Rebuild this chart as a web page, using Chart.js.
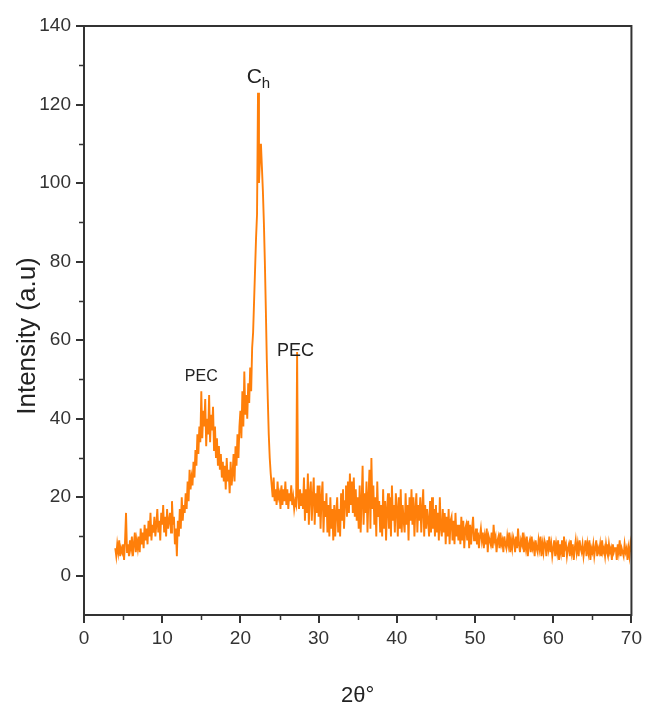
<!DOCTYPE html>
<html>
<head>
<meta charset="utf-8">
<script src="https://cdn.jsdelivr.net/npm/chart.js@4"></script>
<style>
html,body{margin:0;padding:0;background:#fff;}
#wrap{width:646px;height:709px;}
</style>
</head>
<body>
<div id="wrap"><canvas id="c" width="646" height="709"></canvas></div>
<script>
// 2θ grid: first angle and step of the scan (degrees)
const startAngle = 4;
const angleStep = 0.125;
// Intensity (a.u), one value per grid step, 4.000° … 70.000°
const intensity = [
  7,5,8,6,9,5,7,6,          // 4
  8,4,9,16,6,8,5,9,         // 5
  7,10,5,8,11,6,9,7,        // 6
  10,6,12,8,11,7,13,9,      // 7
  12,8,14,10,16,9,13,11,    // 8
  15,10,13,17,11,14,9,16,   // 9
  13,18,11,15,10,17,12,14,  // 10
  16,11,19,13,15,8,12,5,    // 11
  14,10,17,12,20,14,18,16,  // 12
  21,17,24,19,27,22,25,23,  // 13
  29,25,32,28,36,31,38,34,  // 14
  47,35,42,38,45,33,40,36,  // 15
  46,34,41,37,43,32,38,30,  // 16
  35,28,33,27,31,25,29,24,  // 17
  28,22,30,24,27,21,29,23,  // 18
  26,31,24,33,28,36,30,38,  // 19
  42,35,47,38,52,41,46,40,  // 20
  49,44,53,47,58,62,70,78,  // 21
  86,92,123,100,106,110,104,98, // 22
  90,80,68,55,45,36,30,26,  // 23
  23,20,25,19,22,18,24,20,  // 24
  21,17,23,18,22,19,24,18,  // 25
  22,17,21,19,23,18,20,17,  // 26
  19,18,57,20,17,22,18,21,  // 27
  17,25,14,22,16,26,13,21,  // 28
  24,14,20,25,13,21,16,23,  // 29
  15,23,12,20,24,11,19,15,  // 30
  21,11,18,10,20,12,17,9,   // 31
  18,10,16,20,11,17,10,21,  // 32
  14,22,12,19,23,15,24,16,  // 33
  26,18,24,16,25,15,22,14,  // 34
  20,12,23,11,19,28,13,21,  // 35
  16,24,11,20,27,12,30,17,  // 36
  23,13,20,10,24,15,19,11,  // 37
  18,10,22,12,19,9,17,21,   // 38
  12,20,10,23,14,18,11,21,  // 39
  17,10,20,12,22,11,18,14,  // 40
  11,21,13,18,9,20,14,22,   // 41
  13,20,10,17,21,11,18,14,  // 42
  20,11,17,22,10,18,12,17,  // 43
  14,10,19,11,20,12,17,10,  // 44
  18,11,16,9,20,12,10,17,   // 45
  11,16,8,15,10,17,8,14,    // 46
  15,9,14,8,16,10,13,9,     // 47
  13,8,15,9,14,7,12,13,     // 48
  9,14,7,13,8,12,15,9,      // 49
  9,12,8,11,7,10,12,9,      // 50
  11,7,10,8,12,6,10,9,      // 51
  8,11,7,13,9,10,6,9,       // 52
  10,7,11,8,9,6,10,8,       // 53
  7,10,8,11,6,9,7,10,       // 54
  9,6,10,7,12,8,6,9,        // 55
  8,11,6,9,7,10,5,8,        // 56
  9,6,10,7,8,5,9,7,         // 57
  6,9,7,10,5,8,6,9,         // 58
  8,5,9,7,10,6,8,5,         // 59
  7,9,5,8,6,9,4,8,          // 60
  6,9,5,10,7,8,5,7,         // 61
  8,5,9,6,8,4,7,9,          // 62
  6,8,5,9,7,6,8,5,          // 63
  7,9,5,8,6,9,4,7,          // 64
  6,8,5,7,9,5,7,6,          // 65
  8,5,9,6,7,5,8,6,          // 66
  5,8,6,7,4,8,6,7,          // 67
  7,4,8,6,9,5,7,6,          // 68
  5,8,6,7,4,7,5,8,          // 69
  6                         // 70
];
// Axis ticks
const xMajorTicks = [0,10,20,30,40,50,60,70];
const xMinorTicks = [5,15,25,35,45,55,65];
const yMajorTicks = [0,20,40,60,80,100,120,140];
const yMinorTicks = [10,30,50,70,90,110,130];
// Peak annotations: [text, subscript, 2θ, intensity, font size]
const peakLabels = [
  ['C', 'h', 22.3, 125.5, 21],
  ['PEC', '', 15.0, 49.5, 16],
  ['PEC', '', 27.05, 56.0, 18]
];
const xTitle = '2θ°';
const yTitle = 'Intensity (a.u)';

const points = intensity.map((v, i) => ({x: startAngle + i * angleStep, y: v}));

const FONT = "'Liberation Sans', Arial, Helvetica, sans-serif";
const AXIS = '#333';

const extras = {
  id: 'extras',
  afterDraw(chart) {
    const {ctx, chartArea: a, scales: {x, y}} = chart;
    ctx.save();
    // frame
    ctx.strokeStyle = AXIS;
    ctx.lineWidth = 2;
    ctx.strokeRect(a.left, a.top, a.right - a.left, a.bottom - a.top);
    // minor ticks
    ctx.lineWidth = 1.5;
    ctx.beginPath();
    yMinorTicks.forEach(v => {
      const py = Math.round(y.getPixelForValue(v)) + 0.5;
      ctx.moveTo(a.left, py); ctx.lineTo(a.left - 5, py);
    });
    xMinorTicks.forEach(v => {
      const px = Math.round(x.getPixelForValue(v)) + 0.5;
      ctx.moveTo(px, a.bottom); ctx.lineTo(px, a.bottom + 5);
    });
    ctx.stroke();
    // peak labels
    ctx.fillStyle = '#222';
    ctx.textBaseline = 'alphabetic';
    peakLabels.forEach(([t, sub, xv, yv, size]) => {
      const px = x.getPixelForValue(xv), py = y.getPixelForValue(yv);
      ctx.font = size + 'px ' + FONT;
      const w = ctx.measureText(t).width;
      let sw = 0;
      if (sub) { ctx.font = Math.round(size * 0.7) + 'px ' + FONT; sw = ctx.measureText(sub).width; }
      const left = px - (w + sw) / 2;
      ctx.font = size + 'px ' + FONT;
      ctx.textAlign = 'left';
      ctx.fillText(t, left, py);
      if (sub) {
        ctx.font = Math.round(size * 0.7) + 'px ' + FONT;
        ctx.fillText(sub, left + w, py + 5);
      }
    });
    // y title
    ctx.font = '26px ' + FONT;
    ctx.fillStyle = '#222';
    ctx.textAlign = 'center';
    ctx.textBaseline = 'middle';
    ctx.translate(28, 336);
    ctx.rotate(-Math.PI / 2);
    ctx.fillText(yTitle, 0, 0);
    ctx.restore();
  }
};

new Chart(document.getElementById('c'), {
  type: 'line',
  data: {
    datasets: [{
      data: points,
      borderColor: '#FF7F0A',
      borderWidth: 1.9,
      pointRadius: 0,
      tension: 0,
      fill: false
    }]
  },
  options: {
    responsive: false,
    animation: false,
    events: [],
    layout: {padding: {top: 26, right: 13, left: 0, bottom: 0}},
    plugins: {legend: {display: false}, tooltip: {enabled: false}},
    scales: {
      x: {
        type: 'linear', min: 0, max: 70,
        afterBuildTicks: s => { s.ticks = xMajorTicks.map(v => ({value: v})); },
        afterFit: s => { s.height = 94; },
        ticks: {font: {family: FONT, size: 19}, color: '#333', padding: 4, maxRotation: 0},
        grid: {drawOnChartArea: false, tickLength: 8, color: AXIS, lineWidth: 2},
        border: {color: AXIS, width: 2},
        title: {display: true, text: xTitle, font: {family: FONT, size: 22}, color: '#222', padding: {top: 0, bottom: 0}}
      },
      y: {
        type: 'linear', min: -10, max: 140,
        afterBuildTicks: s => { s.ticks = yMajorTicks.map(v => ({value: v})); },
        afterFit: s => { s.width = 84; },
        ticks: {font: {family: FONT, size: 19}, color: '#333', padding: 5},
        grid: {drawOnChartArea: false, tickLength: 8, color: AXIS, lineWidth: 2},
        border: {color: AXIS, width: 2}
      }
    }
  },
  plugins: [extras]
});
</script>
</body>
</html>
